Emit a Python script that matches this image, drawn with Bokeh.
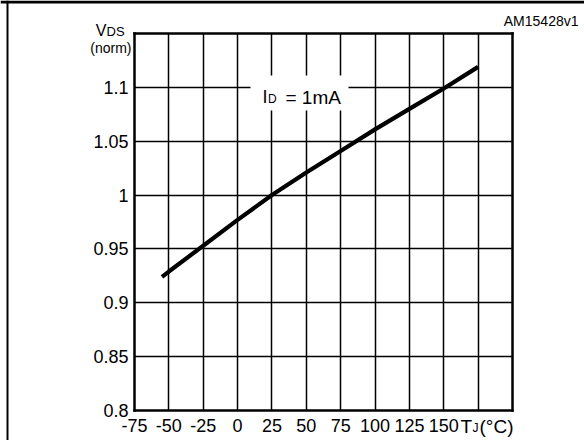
from bokeh.plotting import figure
from bokeh.models import FixedTicker, Label, BoxAnnotation, LinearAxis, Range1d
from bokeh.embed import file_html
from bokeh.resources import INLINE

# Normalized drain-source breakdown voltage vs junction temperature
temp_c = [-55, -50, -25, 0, 25, 50, 75, 100, 125, 150, 175]
vds_norm = [0.924, 0.929, 0.953, 0.977, 1.0, 1.021, 1.041, 1.061, 1.080, 1.099, 1.119]

x_ticks = [-75, -50, -25, 0, 25, 50, 75, 100, 125, 150, 175]
x_tick_labels = ["-75", "-50", "-25", "0", "25", "50", "75", "100", "125", "150", ""]
y_ticks = [0.8, 0.85, 0.9, 0.95, 1.0, 1.05, 1.1]
y_tick_labels = ["0.8", "0.85", "0.9", "0.95", "1", "1.05", "1.1"]

FONT = "Liberation Sans"

# Page geometry (pixels) and the chart box inside it
W, H = 584, 440
BOX_L, BOX_R, BOX_T, BOX_B = 134, 512, 33, 410
X_LO, X_HI = -75, 200
Y_LO, Y_HI = 0.8, 1.15
sx = (X_HI - X_LO) / (BOX_R - BOX_L)
sy = (Y_HI - Y_LO) / (BOX_B - BOX_T)


def dx(px):
    return X_LO + (px - BOX_L) * sx


def dy(py):
    return Y_LO + (BOX_B - py) * sy


p = figure(width=W, height=H,
           x_range=Range1d(dx(0), dx(W)), y_range=Range1d(dy(H), dy(0)),
           output_backend="svg", toolbar_location=None, min_border=0)
p.background_fill_color = "white"
p.border_fill_color = "white"
p.outline_line_color = None


def style_axis(ax, ticks, labels):
    ax.ticker = FixedTicker(ticks=ticks)
    ax.major_label_overrides = dict(zip(ticks, labels))
    ax.axis_line_color = "black"
    ax.axis_line_width = 2.5
    ax.axis_line_cap = "square"
    ax.major_tick_line_color = None
    ax.minor_tick_line_color = None
    ax.major_tick_out = 0
    ax.major_tick_in = 0
    ax.major_label_text_font = FONT
    ax.major_label_text_font_size = "18px"
    ax.major_label_text_color = "black"


xax = p.xaxis[0]
xax.fixed_location = Y_LO
xax.bounds = (X_LO, X_HI)
style_axis(xax, x_ticks, x_tick_labels)
xax.major_label_standoff = 8

yax = p.yaxis[0]
yax.fixed_location = X_LO
yax.bounds = (Y_LO, Y_HI)
style_axis(yax, y_ticks, y_tick_labels)
yax.major_label_standoff = 6

# Top and right edges of the chart box
top_ax = LinearAxis(fixed_location=Y_HI, bounds=(X_LO, X_HI))
style_axis(top_ax, [], [])
p.add_layout(top_ax, "above")
right_ax = LinearAxis(fixed_location=X_HI, bounds=(Y_LO, Y_HI))
style_axis(right_ax, [], [])
p.add_layout(right_ax, "right")

# Grid limited to the chart box
p.xgrid[0].ticker = FixedTicker(ticks=x_ticks[1:])
p.xgrid[0].bounds = (X_LO, X_HI)
p.xgrid[0].cross_bounds = (Y_LO, Y_HI)
p.ygrid[0].ticker = FixedTicker(ticks=y_ticks[1:])
p.ygrid[0].bounds = (Y_LO, Y_HI)
p.ygrid[0].cross_bounds = (X_LO, X_HI)
for g in (p.xgrid[0], p.ygrid[0]):
    g.grid_line_color = "black"
    g.grid_line_width = 1.5
    g.grid_line_alpha = 1.0

p.line(temp_c, vds_norm, line_color="black", line_width=4.2, line_cap="butt")

# White patch behind the test-condition label
p.add_layout(BoxAnnotation(left=dx(250), right=dx(348), bottom=dy(110), top=dy(75),
                           fill_color="white", fill_alpha=1.0, line_color=None))


def lab(text, px, py, size, align="left"):
    p.add_layout(Label(x=dx(px), y=dy(py), text=text,
                       text_font=FONT, text_font_size=size, text_color="black",
                       text_align=align, text_baseline="middle"))


# Test condition
lab("I", 262, 96.7, "18px")
lab("D", 267.5, 98.7, "12px")
lab("= 1mA", 285, 96.7, "19px")

# Y axis title
lab("V", 106, 29.7, "16px", align="right")
lab("DS", 106, 30.8, "13px")
lab("(norm)", 131, 47, "14px", align="right")

# X axis title in place of the last tick label
lab("T", 460, 425.7, "19px")
lab("J", 472, 427.7, "12px")
lab("(°C)", 479, 425.7, "19px")

# Figure code
lab("AM15428v1", 578, 20, "14px", align="right")

# Page frame lines (top and left)
for l, r, t, b in [(0, W, 0, 3), (6, 8, 0, H)]:
    p.add_layout(BoxAnnotation(left=l, right=r, top=t, bottom=b,
                               left_units="canvas", right_units="canvas",
                               top_units="canvas", bottom_units="canvas",
                               fill_color="black", fill_alpha=1.0, line_color=None))

open("out.html", "w").write(file_html(p, INLINE))
